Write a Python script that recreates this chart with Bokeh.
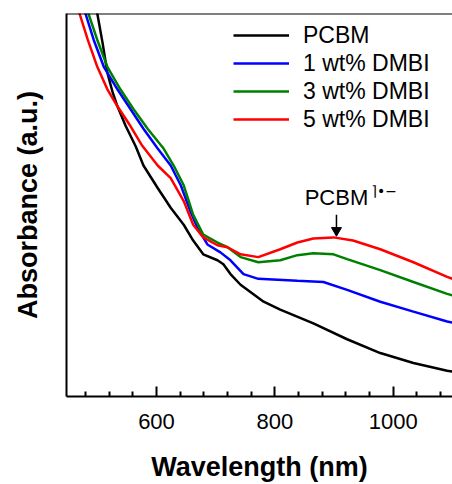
from bokeh.plotting import figure
from bokeh.models import Legend, LegendItem, FixedTicker, Range1d, Span
from bokeh.core.properties import value
from bokeh.embed import file_html
from bokeh.resources import INLINE

# ---- data (wavelength in nm, absorbance in arbitrary units) ----
pcbm_x = [495, 500, 509, 517, 526, 534, 548, 565, 578, 602, 624, 646, 662, 679, 703, 713, 725, 742,
          781, 809, 865, 922, 978, 1034, 1091, 1100]
pcbm_y = [1.01, 0.970, 0.895, 0.820, 0.770, 0.735, 0.685, 0.633, 0.585, 0.528, 0.478, 0.435, 0.395,
          0.360, 0.345, 0.335, 0.310, 0.283, 0.240, 0.220, 0.185, 0.145, 0.110, 0.085, 0.065, 0.063]

dmbi1_x = [473, 480, 494, 511, 534, 556, 578, 602, 624, 641, 657, 669, 686, 708, 725, 747, 772,
           838, 882, 922, 978, 1034, 1091, 1100]
dmbi1_y = [1.00, 0.970, 0.903, 0.835, 0.778, 0.728, 0.678, 0.628, 0.585, 0.535, 0.470, 0.428, 0.385,
           0.365, 0.345, 0.310, 0.298, 0.293, 0.290, 0.270, 0.240, 0.215, 0.190, 0.187]

dmbi3_x = [478, 485, 500, 517, 539, 561, 585, 612, 629, 646, 662, 679, 703, 720, 742, 772,
           809, 838, 865, 899, 922, 978, 1034, 1091, 1100]
dmbi3_y = [1.00, 0.970, 0.903, 0.835, 0.778, 0.728, 0.678, 0.628, 0.585, 0.535, 0.460, 0.410, 0.390,
           0.378, 0.353, 0.340, 0.345, 0.358, 0.363, 0.360, 0.348, 0.320, 0.290, 0.260, 0.256]

dmbi5_x = [462, 470, 484, 500, 517, 534, 556, 576, 602, 624, 646, 662, 679, 703, 720, 742, 772,
           809, 838, 865, 899, 932, 978, 1034, 1091, 1100]
dmbi5_y = [1.00, 0.970, 0.903, 0.835, 0.778, 0.735, 0.685, 0.635, 0.585, 0.553, 0.495, 0.435, 0.403,
           0.383, 0.378, 0.360, 0.353, 0.373, 0.390, 0.400, 0.403, 0.395, 0.373, 0.340, 0.303, 0.298]

series_names = ["PCBM", "1 wt% DMBI", "3 wt% DMBI", "5 wt% DMBI"]
series_colors = ["#000000", "#0000ff", "#008000", "#ff0000"]
x_major_ticks = [600, 800, 1000]
x_minor_ticks = [480, 520, 560, 640, 680, 720, 760, 840, 880, 920, 960, 1040, 1080]

FONT = "Liberation Sans"
X_START, X_END = 448, 1100
Y_START, Y_END = 0, 0.97
W, H = 452, 484
B_LEFT, B_TOP, B_BOTTOM = 66, 13, 83
FRAME_W = W - B_LEFT
FRAME_H = H - B_TOP - B_BOTTOM
PX = (Y_END - Y_START) / FRAME_H   # data units per screen pixel (vertical)
XPX = (X_END - X_START) / FRAME_W  # data units per screen pixel (horizontal)

p = figure(width=W, height=H, output_backend="svg", toolbar_location=None,
           x_range=Range1d(X_START, X_END), y_range=Range1d(Y_START, Y_END),
           min_border_left=B_LEFT, min_border_top=B_TOP, min_border_right=0, min_border_bottom=B_BOTTOM)
p.outline_line_color = None
p.grid.visible = False

renderers = []
for xs, ys, c in zip([pcbm_x, dmbi1_x, dmbi3_x, dmbi5_x],
                     [pcbm_y, dmbi1_y, dmbi3_y, dmbi5_y], series_colors):
    r = p.line(xs, ys, line_color=c, line_width=2.5)
    renderers.append(r)

# top border of the frame
p.add_layout(Span(location=Y_END, dimension="width", line_color="black", line_width=2))

# x axis with inward ticks
xa = p.xaxis[0]
xa.ticker = FixedTicker(ticks=x_major_ticks, minor_ticks=x_minor_ticks)
xa.axis_label = "Wavelength (nm)"
xa.axis_label_text_font = FONT
xa.axis_label_text_font_style = "bold"
xa.axis_label_text_font_size = "27px"
xa.axis_label_text_color = "black"
xa.axis_label_standoff = 20
xa.major_label_text_font = FONT
xa.major_label_text_font_size = "22px"
xa.major_label_text_color = "black"
xa.major_label_standoff = 17
xa.axis_line_width = 2
xa.axis_line_color = "black"
xa.major_tick_in = 10
xa.major_tick_out = 0
xa.minor_tick_in = 5
xa.minor_tick_out = 0
xa.major_tick_line_width = 2
xa.minor_tick_line_width = 2
xa.major_tick_line_color = "black"
xa.minor_tick_line_color = "black"

# y axis: line and title only
ya = p.yaxis[0]
ya.ticker = FixedTicker(ticks=[])
ya.axis_label = "Absorbance (a.u.)"
ya.axis_label_text_font = FONT
ya.axis_label_text_font_style = "bold"
ya.axis_label_text_font_size = "27px"
ya.axis_label_text_color = "black"
ya.axis_label_standoff = 24
ya.axis_line_width = 2
ya.axis_line_color = "black"

legend = Legend(items=[LegendItem(label=n, renderers=[r]) for n, r in zip(series_names, renderers)],
                location=(167, 263), border_line_color=None, background_fill_alpha=0,
                label_text_font=FONT, label_text_font_size="23px", label_text_color="black",
                glyph_width=56, glyph_height=28, label_height=28, spacing=0,
                label_standoff=14, padding=0, margin=0)
p.add_layout(legend)

# annotation at the red-curve polaron peak
peak_idx = max(range(len(dmbi5_x)), key=lambda i: dmbi5_y[i] if 800 <= dmbi5_x[i] <= 1000 else -1)
px, py = dmbi5_x[peak_idx] + 5, dmbi5_y[peak_idx]
p.segment(x0=[px], y0=[py + 23 * PX], x1=[px], y1=[py + 9 * PX], line_color="black", line_width=1.5)
p.scatter(x=[px], y=[py + 7 * PX], marker="inverted_triangle", size=10,
          fill_color="black", line_color="black")
p.text(x=[px], y=[py + 40 * PX], text=["PCBM"],
       text_align="center", text_baseline="middle", text_font=value(FONT),
       text_font_size="22px", text_color="black")
p.text(x=[px + 35 * XPX], y=[py + 47 * PX], text=["\u2309\u2022\u2212"],
       text_align="left", text_baseline="middle", text_font=value("DejaVu Sans"),
       text_font_size="14px", text_color="black")

open("out.html", "w").write(file_html(p, INLINE))
